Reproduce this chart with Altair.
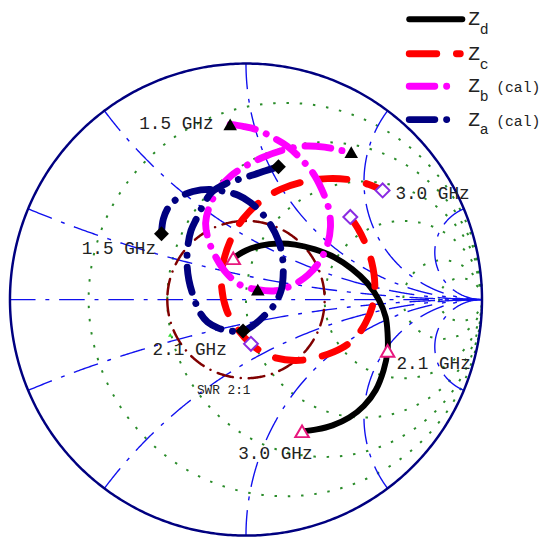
import numpy as np
import pandas as pd
import altair as alt

# ---------------- measured curves (reflection coefficient: real, imag) ----------------
zd_re = [-0.054, 0.0, 0.0625, 0.1375, 0.208, 0.292, 0.375, 0.45, 0.5125, 0.5625, 0.592, 0.6,
         0.6, 0.583, 0.55, 0.5, 0.4375, 0.367, 0.3, 0.2375]
zd_im = [0.175, 0.208, 0.229, 0.2375, 0.233, 0.2125, 0.179, 0.129, 0.071, 0.0, -0.075, -0.146,
         -0.217, -0.3, -0.383, -0.45, -0.5, -0.533, -0.55, -0.558]

zc_re = [0.442, 0.475, 0.508, 0.533, 0.546, 0.5375, 0.508, 0.467, 0.408, 0.3125, 0.208, 0.096,
         0.021, -0.042, -0.083, -0.104, -0.096, -0.0625, -0.0125, 0.0625, 0.146, 0.25, 0.346,
         0.4375, 0.521, 0.579]
zc_im = [0.35, 0.3, 0.233, 0.158, 0.0625, -0.021, -0.096, -0.158, -0.204, -0.242, -0.258, -0.2375,
         -0.1875, -0.117, -0.042, 0.0625, 0.158, 0.258, 0.342, 0.417, 0.467, 0.5, 0.5125,
         0.508, 0.4875, 0.4625]

zb_re = [-0.067, -0.008, 0.054, 0.1125, 0.175, 0.233, 0.283, 0.321, 0.35, 0.358,
         0.346, 0.3125, 0.2625, 0.2, 0.125, 0.05, -0.025, -0.083, -0.125, -0.158,
         -0.171, -0.154, -0.117, -0.0625, 0.0, 0.075, 0.158, 0.242, 0.333, 0.396, 0.446]
zb_im = [0.742, 0.733, 0.717, 0.6875, 0.65, 0.596, 0.5375, 0.467, 0.3875, 0.308,
         0.2375, 0.1625, 0.104, 0.0625, 0.0375, 0.042, 0.0625, 0.1125, 0.175, 0.25,
         0.325, 0.396, 0.467, 0.525, 0.567, 0.604, 0.633, 0.65, 0.646, 0.633, 0.625]

za_re = [-0.358, -0.35, -0.325, -0.283, -0.225, -0.154, -0.092, -0.033, 0.017, 0.0625,
         0.104, 0.1375, 0.154, 0.158, 0.15, 0.121, 0.075, 0.033, -0.0125, -0.067,
         -0.117, -0.1625, -0.196, -0.221, -0.242, -0.25, -0.246, -0.233, -0.208, -0.179,
         -0.142, -0.083, -0.021, 0.033, 0.083, 0.1375]
za_im = [0.279, 0.342, 0.396, 0.433, 0.458, 0.467, 0.458, 0.442, 0.4125, 0.371,
         0.317, 0.25, 0.183, 0.117, 0.042, -0.021, -0.071, -0.108, -0.133, -0.133,
         -0.121, -0.096, -0.054, 0.008, 0.083, 0.158, 0.229, 0.292, 0.346, 0.404,
         0.458, 0.492, 0.5125, 0.529, 0.546, 0.5625]

# markers at 1.5 / 2.1 / 3.0 GHz
zd_mk_re = [-0.054, 0.6, 0.2375]
zd_mk_im = [0.175, -0.217, -0.558]
zc_mk_re = [0.442, 0.021, 0.579]
zc_mk_im = [0.35, -0.1875, 0.4625]
zb_mk_re = [-0.067, 0.05, 0.446]
zb_mk_im = [0.742, 0.042, 0.625]
za_mk_re = [-0.358, -0.0125, 0.1375]
za_mk_im = [0.279, -0.133, 0.5625]
extra_mk_re = [-0.321]
extra_mk_im = [-0.15]

# Smith chart grid values
grid_r = [0.2, 0.5, 1, 2, 5, 10]
grid_x = [0.2, 0.5, 1, 2, 5, -0.2, -0.5, -1, -2, -5]
swr_value = 2.0

# annotations
lab_text = ["1.5 GHz", "1.5 GHz", "3.0 GHz", "2.1 GHz", "2.1 GHz", "3.0 GHz"]
lab_re = [-0.1375, -0.696, 0.633, -0.396, 0.6375, -0.033]
lab_im = [0.742, 0.2125, 0.446, -0.2125, -0.275, -0.654]
lab_align = ["right", "left", "left", "left", "left", "left"]
swr_text = "SWR 2:1"
swr_re, swr_im = -0.208, -0.383

# legend entries
leg_sub = ["d", "c", "b", "a"]
leg_suffix = ["", "", "(cal)", "(cal)"]
leg_color = ["#000000", "#ff0000", "#ff00ff", "#000080"]

# ---------------- layout / style ----------------
leg_im = [1.1875, 1.0417, 0.904, 0.7625]
leg_x0 = 0.6917
leg_x1 = [0.9167, 0.908, 0.879, 0.879]
leg_z_re, leg_sub_re, leg_suf_re = 0.942, 0.99, 1.06
dash_styles = [None, [28, 20], [26, 12, 0.1, 12], [26, 12, 0.1, 12]]
widths = [6, 7, 7, 7]
MONO = "Courier New, Liberation Mono, monospace"

xs = alt.Scale(domain=[-1, 1], nice=False, zero=False)
ys = alt.Scale(domain=[-1, 1], nice=False, zero=False)


def enc(chart, **extra):
    return chart.encode(x=alt.X("re:Q", scale=xs, axis=None),
                        y=alt.Y("im:Q", scale=ys, axis=None), **extra)


def line_layer(df, color, width, dash=None, cap="round", interp="linear"):
    kw = dict(color=color, strokeWidth=width, strokeCap=cap, interpolate=interp, clip=False)
    if dash is not None:
        kw["strokeDash"] = dash
    return enc(alt.Chart(df).mark_line(**kw), detail="id:N", order="i:Q")


# grid: constant-resistance circles
rows = []
t = np.linspace(0, 2 * np.pi, 500)
for k, r in enumerate(grid_r):
    c, rad = r / (1 + r), 1 / (1 + r)
    for i, tt in enumerate(t):
        rows.append(dict(id=k, i=i, re=c + rad * np.cos(tt), im=rad * np.sin(tt)))
rdf = pd.DataFrame(rows)

# grid: constant-reactance arcs + real axis
rr = np.concatenate([np.linspace(0, 1, 200), np.linspace(1.01, 10, 200), np.geomspace(10.1, 1e5, 150)])
rows = []
for k, x in enumerate([0.0] + grid_x):
    g = (rr + 1j * x - 1) / (rr + 1j * x + 1)
    for i, gg in enumerate(g):
        rows.append(dict(id=k, i=i, re=gg.real, im=gg.imag))
xdf = pd.DataFrame(rows)

# outer circle and SWR circle
rows = []
for i, tt in enumerate(np.linspace(0, 2 * np.pi, 600)):
    rows.append(dict(id=0, i=i, re=np.cos(tt), im=np.sin(tt)))
odf = pd.DataFrame(rows)
rho = (swr_value - 1) / (swr_value + 1)
rows = []
for i, tt in enumerate(np.linspace(np.pi, 3 * np.pi, 500)):
    rows.append(dict(id=0, i=i, re=rho * np.cos(tt), im=rho * np.sin(tt)))
sdf = pd.DataFrame(rows)

layers = [
    line_layer(rdf, "#2a8c2a", 2, dash=[2.5, 11], cap="butt"),
    line_layer(xdf, "#1010ee", 1.4, dash=[26, 10, 4, 10], cap="butt"),
    line_layer(odf, "#000080", 2.5, cap="butt"),
    line_layer(sdf, "#800000", 2.5, dash=[16, 8, 0.1, 8]),
]

curves = [(zd_re, zd_im), (zc_re, zc_im), (zb_re, zb_im), (za_re, za_im)]
for (cr, ci), col, w, d in zip(curves, leg_color, widths, dash_styles):
    df = pd.DataFrame(dict(id=0, i=range(len(cr)), re=cr, im=ci))
    layers.append(line_layer(df, col, w, dash=d, interp="catmull-rom"))

# markers
mk = lambda a, b: pd.DataFrame(dict(re=a, im=b))
layers += [
    enc(alt.Chart(mk(zd_mk_re, zd_mk_im)).mark_point(shape="triangle-up", filled=True, fill="white",
        stroke="#e8177d", strokeWidth=2, size=190, opacity=1)),
    enc(alt.Chart(mk(zc_mk_re, zc_mk_im)).mark_point(shape="diamond", filled=True, fill="white",
        stroke="#8a2be2", strokeWidth=2, size=200, opacity=1)),
    enc(alt.Chart(mk(zb_mk_re, zb_mk_im)).mark_point(shape="triangle-up", filled=True, color="black",
        size=190, opacity=1)),
    enc(alt.Chart(mk(za_mk_re, za_mk_im)).mark_point(shape="diamond", filled=True, color="black",
        size=230, opacity=1)),
    enc(alt.Chart(mk(extra_mk_re, extra_mk_im)).mark_point(shape="triangle-up", filled=True, color="#33dd33",
        size=20, opacity=1)),
]

# labels
ldf = pd.DataFrame(dict(t=lab_text, re=lab_re, im=lab_im, a=lab_align))
for al in ["left", "right"]:
    layers.append(enc(alt.Chart(ldf[ldf.a == al]).mark_text(align=al, baseline="middle", font=MONO,
                      fontSize=18, color="#222222"), text="t:N"))
layers.append(enc(alt.Chart(pd.DataFrame(dict(t=[swr_text], re=[swr_re], im=[swr_im]))).mark_text(
    align="left", baseline="middle", font=MONO, fontSize=13, color="#222222"), text="t:N"))

# legend
for k in range(4):
    df = pd.DataFrame(dict(id=0, i=[0, 1], re=[leg_x0, leg_x1[k]], im=[leg_im[k]] * 2))
    layers.append(line_layer(df, leg_color[k], widths[k], dash=dash_styles[k]))
    tdf = pd.DataFrame(dict(t=["Z"], re=[leg_z_re], im=[leg_im[k]]))
    layers.append(enc(alt.Chart(tdf).mark_text(align="left", baseline="middle", font=MONO, fontSize=20,
                                               color="#222222"), text="t:N"))
    sdf2 = pd.DataFrame(dict(t=[leg_sub[k]], re=[leg_sub_re], im=[leg_im[k] - 0.042]))
    layers.append(enc(alt.Chart(sdf2).mark_text(align="left", baseline="middle", font=MONO, fontSize=15,
                                                color="#222222"), text="t:N"))
    if leg_suffix[k]:
        fdf = pd.DataFrame(dict(t=[leg_suffix[k]], re=[leg_suf_re], im=[leg_im[k] - 0.005]))
        layers.append(enc(alt.Chart(fdf).mark_text(align="left", baseline="middle", font=MONO, fontSize=15,
                                                   color="#222222"), text="t:N"))

chart = alt.layer(*layers).properties(
    width=480, height=480,
    background="white",
    padding={"left": 2, "top": 52, "right": 60, "bottom": 0},
    autosize=alt.AutoSizeParams(type="none"),
).configure_view(strokeWidth=0, stroke=None)

chart.save("out.html", embed_options={"renderer": "svg", "actions": False})
